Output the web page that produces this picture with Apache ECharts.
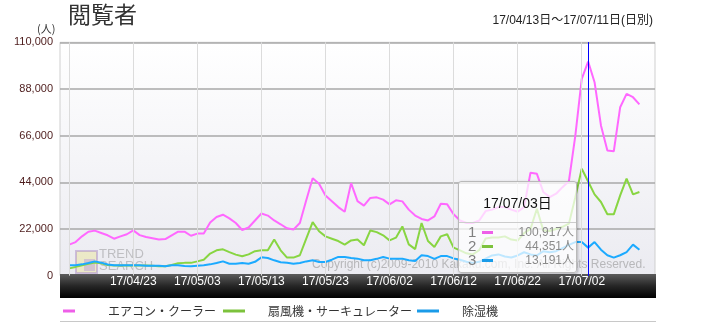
<!DOCTYPE html>
<html><head><meta charset="utf-8">
<script src="https://cdn.jsdelivr.net/npm/echarts@6/dist/echarts.min.js"></script>
<style>html,body{margin:0;padding:0;background:#fff}#c{width:715px;height:323px}</style>
</head><body><div id="c"></div>
<script>
const categories = [
'17/04/13','17/04/14','17/04/15','17/04/16','17/04/17','17/04/18','17/04/19','17/04/20','17/04/21','17/04/22',
'17/04/23','17/04/24','17/04/25','17/04/26','17/04/27','17/04/28','17/04/29','17/04/30','17/05/01','17/05/02',
'17/05/03','17/05/04','17/05/05','17/05/06','17/05/07','17/05/08','17/05/09','17/05/10','17/05/11','17/05/12',
'17/05/13','17/05/14','17/05/15','17/05/16','17/05/17','17/05/18','17/05/19','17/05/20','17/05/21','17/05/22',
'17/05/23','17/05/24','17/05/25','17/05/26','17/05/27','17/05/28','17/05/29','17/05/30','17/05/31','17/06/01',
'17/06/02','17/06/03','17/06/04','17/06/05','17/06/06','17/06/07','17/06/08','17/06/09','17/06/10','17/06/11',
'17/06/12','17/06/13','17/06/14','17/06/15','17/06/16','17/06/17','17/06/18','17/06/19','17/06/20','17/06/21',
'17/06/22','17/06/23','17/06/24','17/06/25','17/06/26','17/06/27','17/06/28','17/06/29','17/06/30','17/07/01',
'17/07/02','17/07/03','17/07/04','17/07/05','17/07/06','17/07/07','17/07/08','17/07/09','17/07/10','17/07/11'];

const aircon = [
14600,15800,18500,20700,21200,20100,19000,17400,18500,19500,
21300,19100,18200,17600,17000,17200,19000,20700,20700,18800,
19800,19900,25000,27600,28700,27000,24800,21500,22700,26000,
29300,28300,26000,24200,22300,21700,24800,35500,45900,43300,
37800,35100,32300,30100,43600,35100,33000,36600,36900,35800,
33600,35500,35000,31100,28300,26700,26000,27900,33900,33600,
28900,26000,24800,24800,26000,30400,31100,32300,32300,31100,
30100,32300,48500,48000,39400,37000,38600,41700,44600,66000,
92800,100917,91200,70800,59000,58600,79400,85700,84100,80700];

const fan = [
3400,4100,4900,5600,6200,5800,5000,4800,4800,4800,
4800,4800,4800,4700,4400,4400,5000,5800,6000,6000,
6700,7500,10400,11900,12400,11100,9900,9100,10000,11500,
11900,11900,17000,11900,8500,8500,9600,17400,25200,20900,
18500,17400,16300,14600,16600,17000,14300,21300,20500,19000,
16600,17900,23200,14700,12500,24800,16300,13500,18500,19500,
13200,11900,10500,10000,12000,17500,18000,18000,18500,17000,
16500,20000,22000,31500,21300,21000,22000,23000,24500,37000,
50400,44351,38300,34700,28900,28900,37800,45700,38300,39400];

const dehumid = [
4900,4900,5300,5900,6700,6100,5200,4900,4900,4900,
4900,4900,4700,4600,4600,4400,4900,4900,4500,4400,
4700,4900,5300,5900,6700,5600,5600,5900,5600,6500,
8600,8300,7200,6300,6100,5600,5900,6700,7200,6400,
6400,7500,8800,8800,8300,8000,7200,7200,7900,8800,
8000,8000,8000,7200,6900,9600,9200,7900,9200,9200,
8100,7500,6500,6000,6500,8000,9500,10000,9000,8500,
9500,11000,10000,9500,11500,11000,11500,13000,14500,15800,
15800,13191,15800,12200,9600,8500,9600,11100,14600,12200];

const seriesNames = ['エアコン・クーラー','扇風機・サーキュレーター','除湿機'];
const seriesColors = ['#ee5fe8','#7cc23c','#1a9be8'];
const yMax = 110000, yStep = 22000;
const labelEvery = 10;
const tipIndex = 81;
const titleText = '閲覧者';
const unitText = '(人)';
const rangeText = '17/04/13日～17/07/11日(日別)';
const copyrightText = 'Copyright (c)2009-2010 Kakaku.com, Inc. All Rights Reserved.';

const FONT = "'Liberation Sans','Noto Sans CJK JP',sans-serif";
const chart = echarts.init(document.getElementById('c'), null, {renderer:'canvas'});

const seriesData = [aircon, fan, dehumid];

const option = {
  animation: false,
  textStyle: {fontFamily: FONT},
  grid: [
    {left:60, right:60, top:42.3, bottom:47.4, show:true, borderWidth:1, borderColor:'#cfcfcf',
     backgroundColor: new echarts.graphic.LinearGradient(0,0,0,1,[{offset:0,color:'#ffffff'},{offset:1,color:'#ebebf1'}])},
    {left:69.2, right:75.6, top:42.3, bottom:47.4}
  ],
  xAxis: [
    {gridIndex:0, type:'value', show:false, min:0, max:1},
    {gridIndex:1, type:'category', data:categories, boundaryGap:false, z:10,
     axisLine:{show:false}, axisTick:{show:false},
     axisLabel:{color:'#ffffff', fontSize:12, margin:0, fontFamily:FONT,
       interval:(i)=> i>0 && i%labelEvery===0},
     splitLine:{show:true, interval:(i)=> i%labelEvery===0, lineStyle:{color:'#dcdcdc', width:1}}}
  ],
  yAxis: [
    {gridIndex:0, type:'value', min:0, max:yMax, interval:yStep,
     axisLine:{show:false}, axisTick:{show:false},
     axisLabel:{color:'#4d1c1c', fontSize:11, margin:7, fontFamily:FONT,
       formatter:(v)=> v.toLocaleString('en-US')},
     splitLine:{show:true, lineStyle:{color:'#a9a9a9', width:1.5}}},
    {gridIndex:1, type:'value', min:0, max:yMax, show:false, splitLine:{show:false}}
  ],
  legend: seriesNames.map((n,k)=>({
    data:[n], left:[63,223,417][k], top:304, padding:0,
    icon:'rect', itemWidth:[12,22,22][k], itemHeight:3,
    selectedMode:false,
    textStyle:{fontSize:12, color:'#333', fontFamily:"'Noto Sans CJK JP',sans-serif", lineHeight:14,
      padding:[0,0,0,[28,18,18][k]]}
  })),
  tooltip: {
    trigger:'axis', triggerOn:'none', alwaysShowContent:true,
    position:[458,181], transitionDuration:0, padding:0,
    borderWidth:1, borderColor:'#b9b9b9', backgroundColor:'rgba(255,255,255,0.72)',
    extraCssText:'box-shadow:1px 1px 3px rgba(0,0,0,0.25);border-radius:3px;box-sizing:border-box;width:119px;height:92px;',
    axisPointer:{type:'line', animation:false, lineStyle:{color:'#0000ff', width:1, type:'solid'}},
    formatter:(params)=>{
      const idx = params[0].dataIndex;
      let h = `<div style="position:relative;width:117px;height:90px;font-family:${FONT.replace(/"/g,'')};">`;
      h += `<div style="position:absolute;left:0;top:0;width:117px;height:40px;line-height:42px;text-align:center;font-size:14px;color:#111;">${categories[idx]}日</div>`;
      h += `<div style="position:absolute;left:0;top:40px;width:117px;height:1px;background:#cccccc;"></div>`;
      params.forEach((p,k)=>{
        const top = 43 + k*14;
        h += `<div style="position:absolute;left:9px;top:${top}px;height:14px;line-height:14px;font-size:15px;color:#808080;">${k+1}</div>`;
        h += `<div style="position:absolute;left:23px;top:${top+6}px;width:11px;height:3px;background:${p.color};"></div>`;
        h += `<div style="position:absolute;right:2px;top:${top}px;height:14px;line-height:14px;font-size:12px;color:#8a8a8a;">${Number(p.value).toLocaleString('en-US')}人</div>`;
      });
      h += `</div>`;
      return h;
    }
  },
  graphic: [
    {type:'text', left:68, top:3, style:{text:titleText, fontSize:23, fill:'#333', fontFamily:"'Noto Sans CJK JP',sans-serif"}},
    {type:'text', left:37, top:23, style:{text:unitText, fontSize:11, fill:'#333', fontFamily:"'Noto Sans CJK JP',sans-serif"}},
    {type:'text', right:62, top:15, style:{text:rangeText, fontSize:12, fill:'#222', fontFamily:"'Liberation Sans','Noto Sans CJK JP',sans-serif"}},
    {type:'rect', left:60, top:274, z:5, shape:{width:596, height:24},
     style:{fill:new echarts.graphic.LinearGradient(0,0,0,1,[{offset:0,color:'#5c5c5c'},{offset:0.5,color:'#262626'},{offset:1,color:'#000'}])}},
    {type:'rect', left:60, top:321, z:5, shape:{width:596, height:1}, style:{fill:'#c8c8c8'}},
    {type:'text', left:312, top:259, z:3, style:{text:copyrightText, fontSize:12, fill:'rgba(140,140,140,0.55)', fontFamily:"'Liberation Sans',sans-serif"}},
    {type:'rect', left:75, top:250, z:3, shape:{width:21, height:22}, style:{fill:'rgba(235,225,120,0.35)', stroke:'rgba(170,140,200,0.5)', lineWidth:2}},
    {type:'rect', left:84, top:259, z:3, shape:{width:11, height:12}, style:{fill:'rgba(180,150,220,0.45)'}},
    {type:'text', left:99, top:248, z:3, style:{text:'TREND', fontSize:13, fill:'rgba(120,120,120,0.4)', fontFamily:"'Liberation Sans',sans-serif"}},
    {type:'text', left:99, top:260, z:3, style:{text:'SEARCH', fontSize:13, fill:'rgba(120,120,120,0.4)', fontFamily:"'Liberation Sans',sans-serif"}}
  ],
  series: seriesData.map((d,k)=>({
    name:seriesNames[k], type:'line', xAxisIndex:1, yAxisIndex:1, data:d,
    showSymbol:false, symbol:'none', color:seriesColors[k],
    lineStyle:{width:2, color:seriesColors[k]}, z:4
  }))
};
chart.setOption(option);
chart.dispatchAction({type:'showTip', seriesIndex:0, dataIndex:tipIndex});
</script>
</body></html>
